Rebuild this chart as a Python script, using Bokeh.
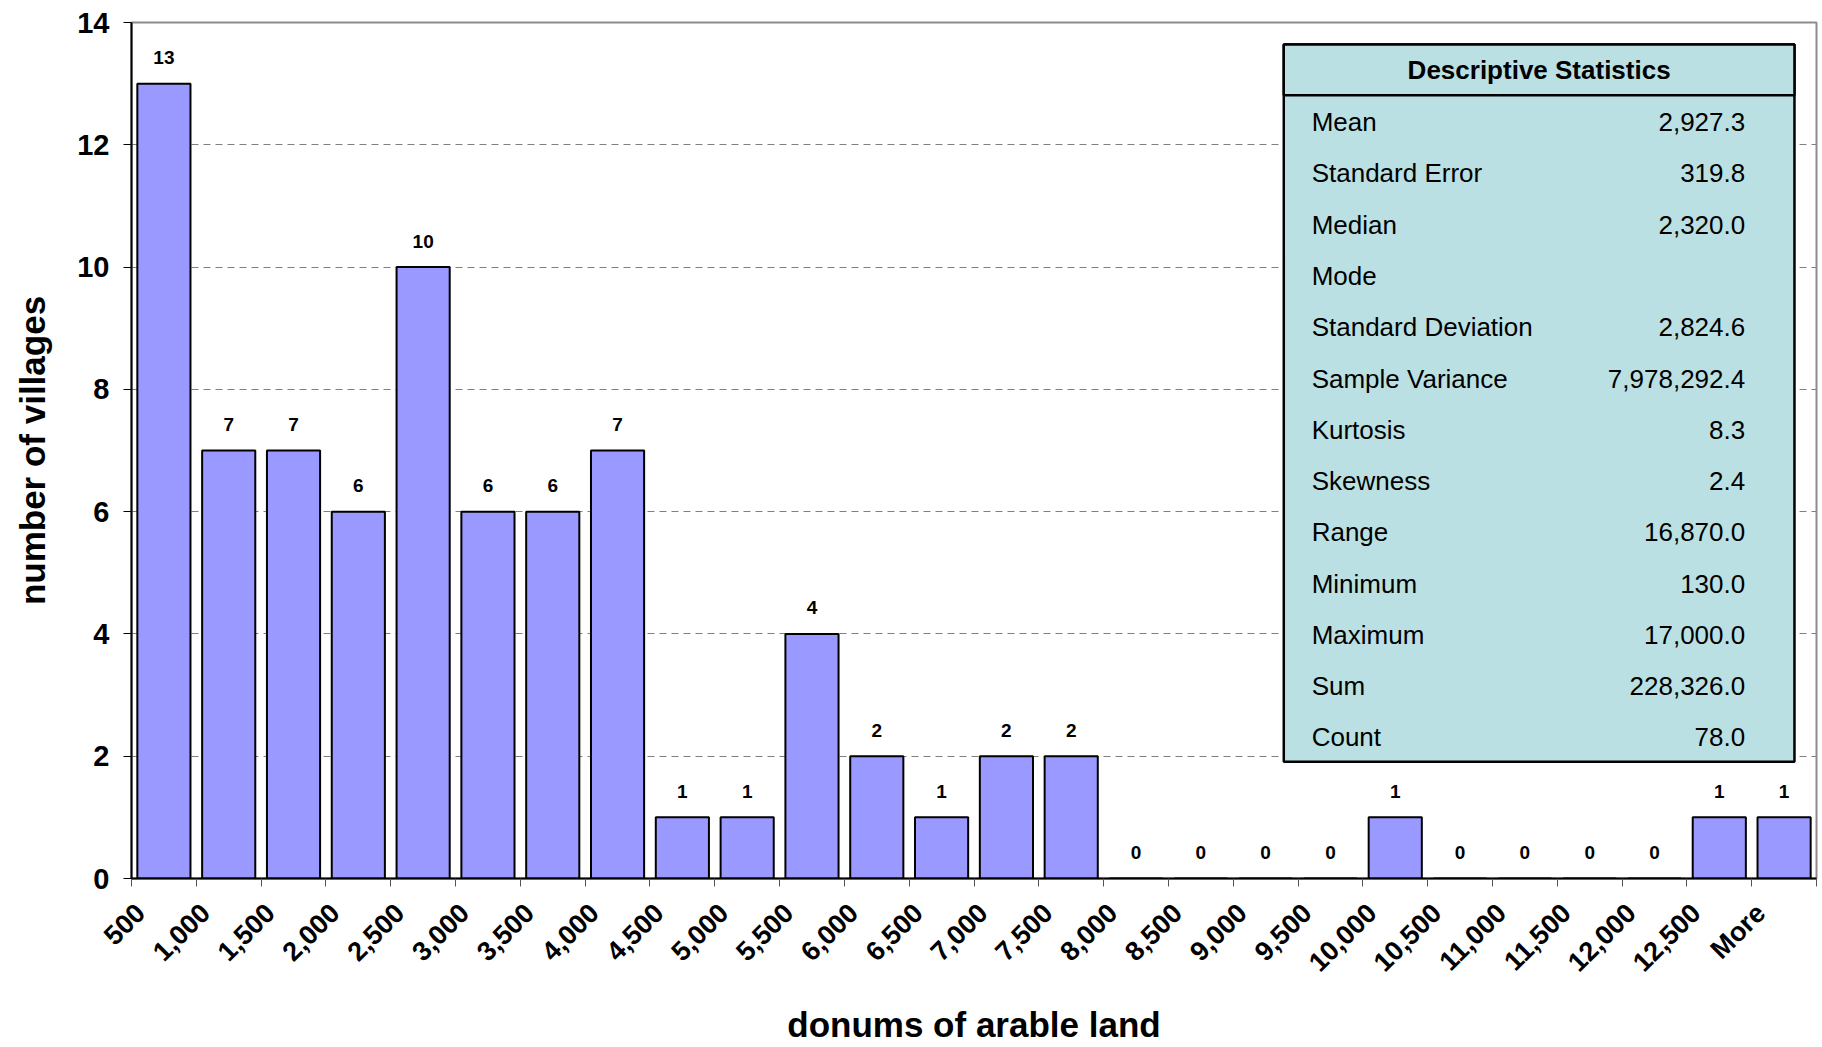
import math
from bokeh.plotting import figure
from bokeh.models import Range1d, FixedTicker, BoxAnnotation, Label, LinearAxis
from bokeh.core.properties import value
from bokeh.embed import file_html
from bokeh.resources import INLINE

# ---------------- data ----------------
bins = ["500", "1,000", "1,500", "2,000", "2,500", "3,000", "3,500", "4,000",
        "4,500", "5,000", "5,500", "6,000", "6,500", "7,000", "7,500", "8,000",
        "8,500", "9,000", "9,500", "10,000", "10,500", "11,000", "11,500",
        "12,000", "12,500", "More"]
counts = [13, 7, 7, 6, 10, 6, 6, 7, 1, 1, 4, 2, 1, 2, 2, 0, 0, 0, 0, 1, 0, 0, 0, 0, 1, 1]

y_ticks = [0, 2, 4, 6, 8, 10, 12, 14]

stat_names = ["Mean", "Standard Error", "Median", "Mode", "Standard Deviation",
              "Sample Variance", "Kurtosis", "Skewness", "Range", "Minimum",
              "Maximum", "Sum", "Count"]
stat_values = ["2,927.3", "319.8", "2,320.0", "", "2,824.6", "7,978,292.4",
               "8.3", "2.4", "16,870.0", "130.0", "17,000.0", "228,326.0", "78.0"]

FONT = "Liberation Sans"
n = len(bins)
LABEL_SHIFT = 0.14   # rotated category labels sit slightly right of each bin edge

p = figure(width=1822, height=1047,
           x_range=Range1d(0, n), y_range=Range1d(0, 14),
           output_backend="svg", toolbar_location=None,
           min_border_left=131, min_border_top=22,
           min_border_right=6, min_border_bottom=167)

xs = [i + 0.5 for i in range(n)]
p.vbar(x=xs, top=counts, width=0.82, fill_color="#9999FF",
       line_color="black", line_width=2)
p.text(x=xs, y=counts, text=[str(c) for c in counts],
       text_align="center", text_baseline="middle", y_offset=-26,
       text_font=value(FONT), text_font_style="bold",
       text_font_size="19px", text_color="black")

# x axis: tick marks at bin edges (no labels)
ax = p.below[0]
ax.ticker = FixedTicker(ticks=list(range(n + 1)))
ax.major_label_overrides = {i: "" for i in range(n + 1)}
ax.major_label_text_font_size = "0px"
ax.major_label_standoff = 0
ax.major_tick_out = 8
ax.major_tick_in = 0
ax.minor_tick_out = 0
ax.minor_tick_in = 0
ax.major_tick_line_color = "#555555"
ax.axis_line_color = "black"
ax.axis_line_width = 2

# x axis: rotated labels
p.extra_x_ranges = {"labels": Range1d(-LABEL_SHIFT, n - LABEL_SHIFT)}
lab_ax = LinearAxis(x_range_name="labels",
                    ticker=FixedTicker(ticks=list(range(n))),
                    major_label_overrides={i: lab for i, lab in enumerate(bins)})
lab_ax.major_label_orientation = math.pi / 4
lab_ax.major_label_text_font = FONT
lab_ax.major_label_text_font_style = "bold"
lab_ax.major_label_text_font_size = "27px"
lab_ax.major_label_text_color = "black"
lab_ax.major_label_standoff = 22
lab_ax.major_tick_out = 0
lab_ax.major_tick_in = 0
lab_ax.minor_tick_out = 0
lab_ax.minor_tick_in = 0
lab_ax.major_tick_line_color = None
lab_ax.minor_tick_line_color = None
lab_ax.axis_line_color = None
lab_ax.axis_label = "donums of arable land"
lab_ax.axis_label_text_font = FONT
lab_ax.axis_label_text_font_style = "bold"
lab_ax.axis_label_text_font_size = "35px"
lab_ax.axis_label_text_color = "black"
lab_ax.axis_label_standoff = 14
p.add_layout(lab_ax, "below")

# y axis
p.yaxis.ticker = FixedTicker(ticks=y_ticks)
p.yaxis.major_label_text_font = FONT
p.yaxis.major_label_text_font_style = "bold"
p.yaxis.major_label_text_font_size = "29px"
p.yaxis.major_label_text_color = "black"
p.yaxis.major_label_standoff = 14
p.yaxis.major_tick_out = 8
p.yaxis.major_tick_in = 0
p.yaxis.minor_tick_out = 0
p.yaxis.minor_tick_in = 0
p.yaxis.major_tick_line_color = "black"
p.yaxis.axis_line_color = "black"
p.yaxis.axis_line_width = 2
p.yaxis.axis_label = "number of villages"
p.yaxis.axis_label_text_font = FONT
p.yaxis.axis_label_text_font_style = "bold"
p.yaxis.axis_label_text_font_size = "35px"
p.yaxis.axis_label_text_color = "black"
p.yaxis.axis_label_standoff = 22

p.xgrid.visible = False
p.ygrid.grid_line_color = "#808080"
p.ygrid.grid_line_dash = "7 5"
p.ygrid.grid_line_width = 1

p.outline_line_color = "#8C8C8C"
p.outline_line_width = 2
p.background_fill_color = "white"
p.border_fill_color = "white"

# ---------------- statistics table ----------------
tb_left, tb_right, tb_bottom, tb_top = 17.78, 25.66, 1.91, 13.64
hd_bottom = 12.81
row0, row_step = 12.37, 0.8385
lab_x, val_x = 18.21, 24.9
TEAL = "#BBE0E3"

p.add_layout(BoxAnnotation(left=tb_left, right=tb_right, bottom=tb_bottom, top=tb_top,
                           fill_color=TEAL, fill_alpha=1.0,
                           line_color="black", line_width=2.5, line_alpha=1.0))
p.add_layout(BoxAnnotation(left=tb_left, right=tb_right, bottom=hd_bottom, top=tb_top,
                           fill_color=TEAL, fill_alpha=1.0,
                           line_color="black", line_width=2.5, line_alpha=1.0))
p.add_layout(Label(x=(tb_left + tb_right) / 2, y=(hd_bottom + tb_top) / 2,
                   text="Descriptive Statistics", text_align="center",
                   text_baseline="middle", text_font=FONT, text_font_style="bold",
                   text_font_size="26px", text_color="black"))
for k, (name, val) in enumerate(zip(stat_names, stat_values)):
    yy = row0 - k * row_step
    p.add_layout(Label(x=lab_x, y=yy, text=name, text_align="left",
                       text_baseline="middle", text_font=FONT,
                       text_font_size="26px", text_color="black"))
    if val:
        p.add_layout(Label(x=val_x, y=yy, text=val, text_align="right",
                           text_baseline="middle", text_font=FONT,
                           text_font_size="26px", text_color="black"))

open("out.html", "w").write(file_html(p, INLINE))
